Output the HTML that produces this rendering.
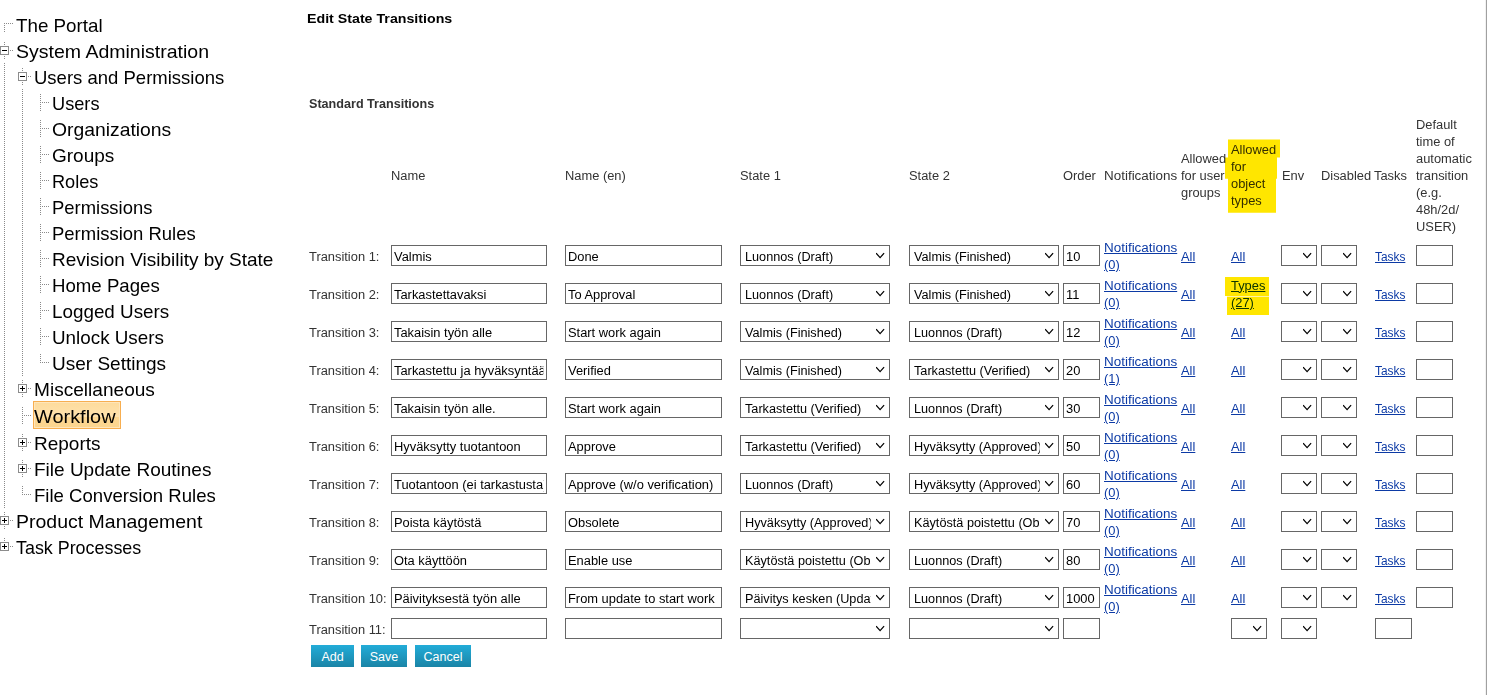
<!DOCTYPE html><html><head><meta charset="utf-8"><style>
*{margin:0;padding:0;box-sizing:content-box}
html,body{width:1487px;height:695px;overflow:hidden;background:#fff;position:relative;font-family:"Liberation Sans", sans-serif}
body>div,body>svg{position:absolute}
.tt{transform-origin:0 0;font-size:19px;line-height:30px;height:30px;color:#000;white-space:nowrap}
.tt,.hd,.lb,.lk,.b1,.b2{position:absolute;white-space:nowrap}
.b1{font-size:13.6px;font-weight:bold;line-height:30px;color:#000}
.b2{font-size:12.6px;font-weight:bold;line-height:30px;color:#333}
.hd,.lb,.lk{transform:scaleX(1.03);transform-origin:0 0}
.hd,.lb{font-size:12.5px;line-height:30px;color:#333}
.lk{font-size:12.5px;line-height:30px;color:#0c3aa5;text-decoration:underline}
.in,.se{position:absolute;border:1px solid #666;background:#fff;overflow:hidden;font-size:12.5px;color:#000;white-space:nowrap}
.in span,.se span{position:absolute;left:2px;top:-4.33px;line-height:30px;overflow:hidden;display:block}
.se span{left:4px}
.in span{transform:scaleX(1.03);transform-origin:0 0}
.se span{transform:scaleX(1.015);transform-origin:0 0}
.sel{position:absolute;border:1px solid #f7ae50;background:linear-gradient(#fddb9c 0%,#ffe2ae 56%,#fdd792 56%,#fcd58e 100%);box-shadow:inset 0 0 0 1px #ffe6bb}
.bt{position:absolute;background:linear-gradient(#22acd8,#1a84a6);color:#fff;font-size:12.5px;line-height:24px;text-align:center}
</style></head><body><svg width="300" height="600" style="position:absolute;left:0;top:0" fill="#8a8a8a"><rect x="4" y="63" width="1" height="1"/><rect x="4" y="65" width="1" height="1"/><rect x="4" y="67" width="1" height="1"/><rect x="4" y="69" width="1" height="1"/><rect x="4" y="71" width="1" height="1"/><rect x="4" y="73" width="1" height="1"/><rect x="4" y="75" width="1" height="1"/><rect x="4" y="77" width="1" height="1"/><rect x="4" y="79" width="1" height="1"/><rect x="4" y="81" width="1" height="1"/><rect x="4" y="83" width="1" height="1"/><rect x="4" y="85" width="1" height="1"/><rect x="4" y="87" width="1" height="1"/><rect x="4" y="89" width="1" height="1"/><rect x="4" y="91" width="1" height="1"/><rect x="4" y="93" width="1" height="1"/><rect x="4" y="95" width="1" height="1"/><rect x="4" y="97" width="1" height="1"/><rect x="4" y="99" width="1" height="1"/><rect x="4" y="101" width="1" height="1"/><rect x="4" y="103" width="1" height="1"/><rect x="4" y="105" width="1" height="1"/><rect x="4" y="107" width="1" height="1"/><rect x="4" y="109" width="1" height="1"/><rect x="4" y="111" width="1" height="1"/><rect x="4" y="113" width="1" height="1"/><rect x="4" y="115" width="1" height="1"/><rect x="4" y="117" width="1" height="1"/><rect x="4" y="119" width="1" height="1"/><rect x="4" y="121" width="1" height="1"/><rect x="4" y="123" width="1" height="1"/><rect x="4" y="125" width="1" height="1"/><rect x="4" y="127" width="1" height="1"/><rect x="4" y="129" width="1" height="1"/><rect x="4" y="131" width="1" height="1"/><rect x="4" y="133" width="1" height="1"/><rect x="4" y="135" width="1" height="1"/><rect x="4" y="137" width="1" height="1"/><rect x="4" y="139" width="1" height="1"/><rect x="4" y="141" width="1" height="1"/><rect x="4" y="143" width="1" height="1"/><rect x="4" y="145" width="1" height="1"/><rect x="4" y="147" width="1" height="1"/><rect x="4" y="149" width="1" height="1"/><rect x="4" y="151" width="1" height="1"/><rect x="4" y="153" width="1" height="1"/><rect x="4" y="155" width="1" height="1"/><rect x="4" y="157" width="1" height="1"/><rect x="4" y="159" width="1" height="1"/><rect x="4" y="161" width="1" height="1"/><rect x="4" y="163" width="1" height="1"/><rect x="4" y="165" width="1" height="1"/><rect x="4" y="167" width="1" height="1"/><rect x="4" y="169" width="1" height="1"/><rect x="4" y="171" width="1" height="1"/><rect x="4" y="173" width="1" height="1"/><rect x="4" y="175" width="1" height="1"/><rect x="4" y="177" width="1" height="1"/><rect x="4" y="179" width="1" height="1"/><rect x="4" y="181" width="1" height="1"/><rect x="4" y="183" width="1" height="1"/><rect x="4" y="185" width="1" height="1"/><rect x="4" y="187" width="1" height="1"/><rect x="4" y="189" width="1" height="1"/><rect x="4" y="191" width="1" height="1"/><rect x="4" y="193" width="1" height="1"/><rect x="4" y="195" width="1" height="1"/><rect x="4" y="197" width="1" height="1"/><rect x="4" y="199" width="1" height="1"/><rect x="4" y="201" width="1" height="1"/><rect x="4" y="203" width="1" height="1"/><rect x="4" y="205" width="1" height="1"/><rect x="4" y="207" width="1" height="1"/><rect x="4" y="209" width="1" height="1"/><rect x="4" y="211" width="1" height="1"/><rect x="4" y="213" width="1" height="1"/><rect x="4" y="215" width="1" height="1"/><rect x="4" y="217" width="1" height="1"/><rect x="4" y="219" width="1" height="1"/><rect x="4" y="221" width="1" height="1"/><rect x="4" y="223" width="1" height="1"/><rect x="4" y="225" width="1" height="1"/><rect x="4" y="227" width="1" height="1"/><rect x="4" y="229" width="1" height="1"/><rect x="4" y="231" width="1" height="1"/><rect x="4" y="233" width="1" height="1"/><rect x="4" y="235" width="1" height="1"/><rect x="4" y="237" width="1" height="1"/><rect x="4" y="239" width="1" height="1"/><rect x="4" y="241" width="1" height="1"/><rect x="4" y="243" width="1" height="1"/><rect x="4" y="245" width="1" height="1"/><rect x="4" y="247" width="1" height="1"/><rect x="4" y="249" width="1" height="1"/><rect x="4" y="251" width="1" height="1"/><rect x="4" y="253" width="1" height="1"/><rect x="4" y="255" width="1" height="1"/><rect x="4" y="257" width="1" height="1"/><rect x="4" y="259" width="1" height="1"/><rect x="4" y="261" width="1" height="1"/><rect x="4" y="263" width="1" height="1"/><rect x="4" y="265" width="1" height="1"/><rect x="4" y="267" width="1" height="1"/><rect x="4" y="269" width="1" height="1"/><rect x="4" y="271" width="1" height="1"/><rect x="4" y="273" width="1" height="1"/><rect x="4" y="275" width="1" height="1"/><rect x="4" y="277" width="1" height="1"/><rect x="4" y="279" width="1" height="1"/><rect x="4" y="281" width="1" height="1"/><rect x="4" y="283" width="1" height="1"/><rect x="4" y="285" width="1" height="1"/><rect x="4" y="287" width="1" height="1"/><rect x="4" y="289" width="1" height="1"/><rect x="4" y="291" width="1" height="1"/><rect x="4" y="293" width="1" height="1"/><rect x="4" y="295" width="1" height="1"/><rect x="4" y="297" width="1" height="1"/><rect x="4" y="299" width="1" height="1"/><rect x="4" y="301" width="1" height="1"/><rect x="4" y="303" width="1" height="1"/><rect x="4" y="305" width="1" height="1"/><rect x="4" y="307" width="1" height="1"/><rect x="4" y="309" width="1" height="1"/><rect x="4" y="311" width="1" height="1"/><rect x="4" y="313" width="1" height="1"/><rect x="4" y="315" width="1" height="1"/><rect x="4" y="317" width="1" height="1"/><rect x="4" y="319" width="1" height="1"/><rect x="4" y="321" width="1" height="1"/><rect x="4" y="323" width="1" height="1"/><rect x="4" y="325" width="1" height="1"/><rect x="4" y="327" width="1" height="1"/><rect x="4" y="329" width="1" height="1"/><rect x="4" y="331" width="1" height="1"/><rect x="4" y="333" width="1" height="1"/><rect x="4" y="335" width="1" height="1"/><rect x="4" y="337" width="1" height="1"/><rect x="4" y="339" width="1" height="1"/><rect x="4" y="341" width="1" height="1"/><rect x="4" y="343" width="1" height="1"/><rect x="4" y="345" width="1" height="1"/><rect x="4" y="347" width="1" height="1"/><rect x="4" y="349" width="1" height="1"/><rect x="4" y="351" width="1" height="1"/><rect x="4" y="353" width="1" height="1"/><rect x="4" y="355" width="1" height="1"/><rect x="4" y="357" width="1" height="1"/><rect x="4" y="359" width="1" height="1"/><rect x="4" y="361" width="1" height="1"/><rect x="4" y="363" width="1" height="1"/><rect x="4" y="365" width="1" height="1"/><rect x="4" y="367" width="1" height="1"/><rect x="4" y="369" width="1" height="1"/><rect x="4" y="371" width="1" height="1"/><rect x="4" y="373" width="1" height="1"/><rect x="4" y="375" width="1" height="1"/><rect x="4" y="377" width="1" height="1"/><rect x="4" y="379" width="1" height="1"/><rect x="4" y="381" width="1" height="1"/><rect x="4" y="383" width="1" height="1"/><rect x="4" y="385" width="1" height="1"/><rect x="4" y="387" width="1" height="1"/><rect x="4" y="389" width="1" height="1"/><rect x="4" y="391" width="1" height="1"/><rect x="4" y="393" width="1" height="1"/><rect x="4" y="395" width="1" height="1"/><rect x="4" y="397" width="1" height="1"/><rect x="4" y="399" width="1" height="1"/><rect x="4" y="401" width="1" height="1"/><rect x="4" y="403" width="1" height="1"/><rect x="4" y="405" width="1" height="1"/><rect x="4" y="407" width="1" height="1"/><rect x="4" y="409" width="1" height="1"/><rect x="4" y="411" width="1" height="1"/><rect x="4" y="413" width="1" height="1"/><rect x="4" y="415" width="1" height="1"/><rect x="4" y="417" width="1" height="1"/><rect x="4" y="419" width="1" height="1"/><rect x="4" y="421" width="1" height="1"/><rect x="4" y="423" width="1" height="1"/><rect x="4" y="425" width="1" height="1"/><rect x="4" y="427" width="1" height="1"/><rect x="4" y="429" width="1" height="1"/><rect x="4" y="431" width="1" height="1"/><rect x="4" y="433" width="1" height="1"/><rect x="4" y="435" width="1" height="1"/><rect x="4" y="437" width="1" height="1"/><rect x="4" y="439" width="1" height="1"/><rect x="4" y="441" width="1" height="1"/><rect x="4" y="443" width="1" height="1"/><rect x="4" y="445" width="1" height="1"/><rect x="4" y="447" width="1" height="1"/><rect x="4" y="449" width="1" height="1"/><rect x="4" y="451" width="1" height="1"/><rect x="4" y="453" width="1" height="1"/><rect x="4" y="455" width="1" height="1"/><rect x="4" y="457" width="1" height="1"/><rect x="4" y="459" width="1" height="1"/><rect x="4" y="461" width="1" height="1"/><rect x="4" y="463" width="1" height="1"/><rect x="4" y="465" width="1" height="1"/><rect x="4" y="467" width="1" height="1"/><rect x="4" y="469" width="1" height="1"/><rect x="4" y="471" width="1" height="1"/><rect x="4" y="473" width="1" height="1"/><rect x="4" y="475" width="1" height="1"/><rect x="4" y="477" width="1" height="1"/><rect x="4" y="479" width="1" height="1"/><rect x="4" y="481" width="1" height="1"/><rect x="4" y="483" width="1" height="1"/><rect x="4" y="485" width="1" height="1"/><rect x="4" y="487" width="1" height="1"/><rect x="4" y="489" width="1" height="1"/><rect x="4" y="491" width="1" height="1"/><rect x="4" y="493" width="1" height="1"/><rect x="4" y="495" width="1" height="1"/><rect x="4" y="497" width="1" height="1"/><rect x="4" y="499" width="1" height="1"/><rect x="4" y="501" width="1" height="1"/><rect x="4" y="503" width="1" height="1"/><rect x="4" y="505" width="1" height="1"/><rect x="4" y="507" width="1" height="1"/><rect x="22" y="89" width="1" height="1"/><rect x="22" y="91" width="1" height="1"/><rect x="22" y="93" width="1" height="1"/><rect x="22" y="95" width="1" height="1"/><rect x="22" y="97" width="1" height="1"/><rect x="22" y="99" width="1" height="1"/><rect x="22" y="101" width="1" height="1"/><rect x="22" y="103" width="1" height="1"/><rect x="22" y="105" width="1" height="1"/><rect x="22" y="107" width="1" height="1"/><rect x="22" y="109" width="1" height="1"/><rect x="22" y="111" width="1" height="1"/><rect x="22" y="113" width="1" height="1"/><rect x="22" y="115" width="1" height="1"/><rect x="22" y="117" width="1" height="1"/><rect x="22" y="119" width="1" height="1"/><rect x="22" y="121" width="1" height="1"/><rect x="22" y="123" width="1" height="1"/><rect x="22" y="125" width="1" height="1"/><rect x="22" y="127" width="1" height="1"/><rect x="22" y="129" width="1" height="1"/><rect x="22" y="131" width="1" height="1"/><rect x="22" y="133" width="1" height="1"/><rect x="22" y="135" width="1" height="1"/><rect x="22" y="137" width="1" height="1"/><rect x="22" y="139" width="1" height="1"/><rect x="22" y="141" width="1" height="1"/><rect x="22" y="143" width="1" height="1"/><rect x="22" y="145" width="1" height="1"/><rect x="22" y="147" width="1" height="1"/><rect x="22" y="149" width="1" height="1"/><rect x="22" y="151" width="1" height="1"/><rect x="22" y="153" width="1" height="1"/><rect x="22" y="155" width="1" height="1"/><rect x="22" y="157" width="1" height="1"/><rect x="22" y="159" width="1" height="1"/><rect x="22" y="161" width="1" height="1"/><rect x="22" y="163" width="1" height="1"/><rect x="22" y="165" width="1" height="1"/><rect x="22" y="167" width="1" height="1"/><rect x="22" y="169" width="1" height="1"/><rect x="22" y="171" width="1" height="1"/><rect x="22" y="173" width="1" height="1"/><rect x="22" y="175" width="1" height="1"/><rect x="22" y="177" width="1" height="1"/><rect x="22" y="179" width="1" height="1"/><rect x="22" y="181" width="1" height="1"/><rect x="22" y="183" width="1" height="1"/><rect x="22" y="185" width="1" height="1"/><rect x="22" y="187" width="1" height="1"/><rect x="22" y="189" width="1" height="1"/><rect x="22" y="191" width="1" height="1"/><rect x="22" y="193" width="1" height="1"/><rect x="22" y="195" width="1" height="1"/><rect x="22" y="197" width="1" height="1"/><rect x="22" y="199" width="1" height="1"/><rect x="22" y="201" width="1" height="1"/><rect x="22" y="203" width="1" height="1"/><rect x="22" y="205" width="1" height="1"/><rect x="22" y="207" width="1" height="1"/><rect x="22" y="209" width="1" height="1"/><rect x="22" y="211" width="1" height="1"/><rect x="22" y="213" width="1" height="1"/><rect x="22" y="215" width="1" height="1"/><rect x="22" y="217" width="1" height="1"/><rect x="22" y="219" width="1" height="1"/><rect x="22" y="221" width="1" height="1"/><rect x="22" y="223" width="1" height="1"/><rect x="22" y="225" width="1" height="1"/><rect x="22" y="227" width="1" height="1"/><rect x="22" y="229" width="1" height="1"/><rect x="22" y="231" width="1" height="1"/><rect x="22" y="233" width="1" height="1"/><rect x="22" y="235" width="1" height="1"/><rect x="22" y="237" width="1" height="1"/><rect x="22" y="239" width="1" height="1"/><rect x="22" y="241" width="1" height="1"/><rect x="22" y="243" width="1" height="1"/><rect x="22" y="245" width="1" height="1"/><rect x="22" y="247" width="1" height="1"/><rect x="22" y="249" width="1" height="1"/><rect x="22" y="251" width="1" height="1"/><rect x="22" y="253" width="1" height="1"/><rect x="22" y="255" width="1" height="1"/><rect x="22" y="257" width="1" height="1"/><rect x="22" y="259" width="1" height="1"/><rect x="22" y="261" width="1" height="1"/><rect x="22" y="263" width="1" height="1"/><rect x="22" y="265" width="1" height="1"/><rect x="22" y="267" width="1" height="1"/><rect x="22" y="269" width="1" height="1"/><rect x="22" y="271" width="1" height="1"/><rect x="22" y="273" width="1" height="1"/><rect x="22" y="275" width="1" height="1"/><rect x="22" y="277" width="1" height="1"/><rect x="22" y="279" width="1" height="1"/><rect x="22" y="281" width="1" height="1"/><rect x="22" y="283" width="1" height="1"/><rect x="22" y="285" width="1" height="1"/><rect x="22" y="287" width="1" height="1"/><rect x="22" y="289" width="1" height="1"/><rect x="22" y="291" width="1" height="1"/><rect x="22" y="293" width="1" height="1"/><rect x="22" y="295" width="1" height="1"/><rect x="22" y="297" width="1" height="1"/><rect x="22" y="299" width="1" height="1"/><rect x="22" y="301" width="1" height="1"/><rect x="22" y="303" width="1" height="1"/><rect x="22" y="305" width="1" height="1"/><rect x="22" y="307" width="1" height="1"/><rect x="22" y="309" width="1" height="1"/><rect x="22" y="311" width="1" height="1"/><rect x="22" y="313" width="1" height="1"/><rect x="22" y="315" width="1" height="1"/><rect x="22" y="317" width="1" height="1"/><rect x="22" y="319" width="1" height="1"/><rect x="22" y="321" width="1" height="1"/><rect x="22" y="323" width="1" height="1"/><rect x="22" y="325" width="1" height="1"/><rect x="22" y="327" width="1" height="1"/><rect x="22" y="329" width="1" height="1"/><rect x="22" y="331" width="1" height="1"/><rect x="22" y="333" width="1" height="1"/><rect x="22" y="335" width="1" height="1"/><rect x="22" y="337" width="1" height="1"/><rect x="22" y="339" width="1" height="1"/><rect x="22" y="341" width="1" height="1"/><rect x="22" y="343" width="1" height="1"/><rect x="22" y="345" width="1" height="1"/><rect x="22" y="347" width="1" height="1"/><rect x="22" y="349" width="1" height="1"/><rect x="22" y="351" width="1" height="1"/><rect x="22" y="353" width="1" height="1"/><rect x="22" y="355" width="1" height="1"/><rect x="22" y="357" width="1" height="1"/><rect x="22" y="359" width="1" height="1"/><rect x="22" y="361" width="1" height="1"/><rect x="22" y="363" width="1" height="1"/><rect x="22" y="365" width="1" height="1"/><rect x="22" y="367" width="1" height="1"/><rect x="22" y="369" width="1" height="1"/><rect x="22" y="371" width="1" height="1"/><rect x="22" y="373" width="1" height="1"/><rect x="22" y="375" width="1" height="1"/><rect x="4" y="23" width="1" height="1"/><rect x="4" y="25" width="1" height="1"/><rect x="4" y="27" width="1" height="1"/><rect x="4" y="29" width="1" height="1"/><rect x="4" y="31" width="1" height="1"/><rect x="4" y="23" width="1" height="1"/><rect x="6" y="23" width="1" height="1"/><rect x="8" y="23" width="1" height="1"/><rect x="10" y="23" width="1" height="1"/><rect x="12" y="23" width="1" height="1"/><rect x="4" y="42" width="1" height="1"/><rect x="4" y="44" width="1" height="1"/><rect x="4" y="46" width="1" height="1"/><rect x="4" y="48" width="1" height="1"/><rect x="4" y="50" width="1" height="1"/><rect x="4" y="52" width="1" height="1"/><rect x="4" y="54" width="1" height="1"/><rect x="4" y="56" width="1" height="1"/><rect x="4" y="58" width="1" height="1"/><rect x="10" y="50" width="1" height="1"/><rect x="12" y="50" width="1" height="1"/><rect x="22" y="68" width="1" height="1"/><rect x="22" y="70" width="1" height="1"/><rect x="22" y="72" width="1" height="1"/><rect x="22" y="74" width="1" height="1"/><rect x="22" y="76" width="1" height="1"/><rect x="22" y="78" width="1" height="1"/><rect x="22" y="80" width="1" height="1"/><rect x="22" y="82" width="1" height="1"/><rect x="22" y="84" width="1" height="1"/><rect x="28" y="76" width="1" height="1"/><rect x="30" y="76" width="1" height="1"/><rect x="40" y="94" width="1" height="1"/><rect x="40" y="96" width="1" height="1"/><rect x="40" y="98" width="1" height="1"/><rect x="40" y="100" width="1" height="1"/><rect x="40" y="102" width="1" height="1"/><rect x="40" y="104" width="1" height="1"/><rect x="40" y="106" width="1" height="1"/><rect x="40" y="108" width="1" height="1"/><rect x="40" y="110" width="1" height="1"/><rect x="40" y="102" width="1" height="1"/><rect x="42" y="102" width="1" height="1"/><rect x="44" y="102" width="1" height="1"/><rect x="46" y="102" width="1" height="1"/><rect x="48" y="102" width="1" height="1"/><rect x="40" y="120" width="1" height="1"/><rect x="40" y="122" width="1" height="1"/><rect x="40" y="124" width="1" height="1"/><rect x="40" y="126" width="1" height="1"/><rect x="40" y="128" width="1" height="1"/><rect x="40" y="130" width="1" height="1"/><rect x="40" y="132" width="1" height="1"/><rect x="40" y="134" width="1" height="1"/><rect x="40" y="136" width="1" height="1"/><rect x="40" y="128" width="1" height="1"/><rect x="42" y="128" width="1" height="1"/><rect x="44" y="128" width="1" height="1"/><rect x="46" y="128" width="1" height="1"/><rect x="48" y="128" width="1" height="1"/><rect x="40" y="146" width="1" height="1"/><rect x="40" y="148" width="1" height="1"/><rect x="40" y="150" width="1" height="1"/><rect x="40" y="152" width="1" height="1"/><rect x="40" y="154" width="1" height="1"/><rect x="40" y="156" width="1" height="1"/><rect x="40" y="158" width="1" height="1"/><rect x="40" y="160" width="1" height="1"/><rect x="40" y="162" width="1" height="1"/><rect x="40" y="154" width="1" height="1"/><rect x="42" y="154" width="1" height="1"/><rect x="44" y="154" width="1" height="1"/><rect x="46" y="154" width="1" height="1"/><rect x="48" y="154" width="1" height="1"/><rect x="40" y="172" width="1" height="1"/><rect x="40" y="174" width="1" height="1"/><rect x="40" y="176" width="1" height="1"/><rect x="40" y="178" width="1" height="1"/><rect x="40" y="180" width="1" height="1"/><rect x="40" y="182" width="1" height="1"/><rect x="40" y="184" width="1" height="1"/><rect x="40" y="186" width="1" height="1"/><rect x="40" y="188" width="1" height="1"/><rect x="40" y="180" width="1" height="1"/><rect x="42" y="180" width="1" height="1"/><rect x="44" y="180" width="1" height="1"/><rect x="46" y="180" width="1" height="1"/><rect x="48" y="180" width="1" height="1"/><rect x="40" y="198" width="1" height="1"/><rect x="40" y="200" width="1" height="1"/><rect x="40" y="202" width="1" height="1"/><rect x="40" y="204" width="1" height="1"/><rect x="40" y="206" width="1" height="1"/><rect x="40" y="208" width="1" height="1"/><rect x="40" y="210" width="1" height="1"/><rect x="40" y="212" width="1" height="1"/><rect x="40" y="214" width="1" height="1"/><rect x="40" y="206" width="1" height="1"/><rect x="42" y="206" width="1" height="1"/><rect x="44" y="206" width="1" height="1"/><rect x="46" y="206" width="1" height="1"/><rect x="48" y="206" width="1" height="1"/><rect x="40" y="224" width="1" height="1"/><rect x="40" y="226" width="1" height="1"/><rect x="40" y="228" width="1" height="1"/><rect x="40" y="230" width="1" height="1"/><rect x="40" y="232" width="1" height="1"/><rect x="40" y="234" width="1" height="1"/><rect x="40" y="236" width="1" height="1"/><rect x="40" y="238" width="1" height="1"/><rect x="40" y="240" width="1" height="1"/><rect x="40" y="232" width="1" height="1"/><rect x="42" y="232" width="1" height="1"/><rect x="44" y="232" width="1" height="1"/><rect x="46" y="232" width="1" height="1"/><rect x="48" y="232" width="1" height="1"/><rect x="40" y="250" width="1" height="1"/><rect x="40" y="252" width="1" height="1"/><rect x="40" y="254" width="1" height="1"/><rect x="40" y="256" width="1" height="1"/><rect x="40" y="258" width="1" height="1"/><rect x="40" y="260" width="1" height="1"/><rect x="40" y="262" width="1" height="1"/><rect x="40" y="264" width="1" height="1"/><rect x="40" y="266" width="1" height="1"/><rect x="40" y="258" width="1" height="1"/><rect x="42" y="258" width="1" height="1"/><rect x="44" y="258" width="1" height="1"/><rect x="46" y="258" width="1" height="1"/><rect x="48" y="258" width="1" height="1"/><rect x="40" y="276" width="1" height="1"/><rect x="40" y="278" width="1" height="1"/><rect x="40" y="280" width="1" height="1"/><rect x="40" y="282" width="1" height="1"/><rect x="40" y="284" width="1" height="1"/><rect x="40" y="286" width="1" height="1"/><rect x="40" y="288" width="1" height="1"/><rect x="40" y="290" width="1" height="1"/><rect x="40" y="292" width="1" height="1"/><rect x="40" y="284" width="1" height="1"/><rect x="42" y="284" width="1" height="1"/><rect x="44" y="284" width="1" height="1"/><rect x="46" y="284" width="1" height="1"/><rect x="48" y="284" width="1" height="1"/><rect x="40" y="302" width="1" height="1"/><rect x="40" y="304" width="1" height="1"/><rect x="40" y="306" width="1" height="1"/><rect x="40" y="308" width="1" height="1"/><rect x="40" y="310" width="1" height="1"/><rect x="40" y="312" width="1" height="1"/><rect x="40" y="314" width="1" height="1"/><rect x="40" y="316" width="1" height="1"/><rect x="40" y="318" width="1" height="1"/><rect x="40" y="310" width="1" height="1"/><rect x="42" y="310" width="1" height="1"/><rect x="44" y="310" width="1" height="1"/><rect x="46" y="310" width="1" height="1"/><rect x="48" y="310" width="1" height="1"/><rect x="40" y="328" width="1" height="1"/><rect x="40" y="330" width="1" height="1"/><rect x="40" y="332" width="1" height="1"/><rect x="40" y="334" width="1" height="1"/><rect x="40" y="336" width="1" height="1"/><rect x="40" y="338" width="1" height="1"/><rect x="40" y="340" width="1" height="1"/><rect x="40" y="342" width="1" height="1"/><rect x="40" y="344" width="1" height="1"/><rect x="40" y="336" width="1" height="1"/><rect x="42" y="336" width="1" height="1"/><rect x="44" y="336" width="1" height="1"/><rect x="46" y="336" width="1" height="1"/><rect x="48" y="336" width="1" height="1"/><rect x="40" y="354" width="1" height="1"/><rect x="40" y="356" width="1" height="1"/><rect x="40" y="358" width="1" height="1"/><rect x="40" y="360" width="1" height="1"/><rect x="40" y="362" width="1" height="1"/><rect x="40" y="362" width="1" height="1"/><rect x="42" y="362" width="1" height="1"/><rect x="44" y="362" width="1" height="1"/><rect x="46" y="362" width="1" height="1"/><rect x="48" y="362" width="1" height="1"/><rect x="22" y="380" width="1" height="1"/><rect x="22" y="382" width="1" height="1"/><rect x="22" y="384" width="1" height="1"/><rect x="22" y="386" width="1" height="1"/><rect x="22" y="388" width="1" height="1"/><rect x="22" y="390" width="1" height="1"/><rect x="22" y="392" width="1" height="1"/><rect x="22" y="394" width="1" height="1"/><rect x="22" y="396" width="1" height="1"/><rect x="28" y="388" width="1" height="1"/><rect x="30" y="388" width="1" height="1"/><rect x="22" y="407" width="1" height="1"/><rect x="22" y="409" width="1" height="1"/><rect x="22" y="411" width="1" height="1"/><rect x="22" y="413" width="1" height="1"/><rect x="22" y="415" width="1" height="1"/><rect x="22" y="417" width="1" height="1"/><rect x="22" y="419" width="1" height="1"/><rect x="22" y="421" width="1" height="1"/><rect x="22" y="423" width="1" height="1"/><rect x="22" y="415" width="1" height="1"/><rect x="24" y="415" width="1" height="1"/><rect x="26" y="415" width="1" height="1"/><rect x="28" y="415" width="1" height="1"/><rect x="30" y="415" width="1" height="1"/><rect x="22" y="434" width="1" height="1"/><rect x="22" y="436" width="1" height="1"/><rect x="22" y="438" width="1" height="1"/><rect x="22" y="440" width="1" height="1"/><rect x="22" y="442" width="1" height="1"/><rect x="22" y="444" width="1" height="1"/><rect x="22" y="446" width="1" height="1"/><rect x="22" y="448" width="1" height="1"/><rect x="22" y="450" width="1" height="1"/><rect x="28" y="442" width="1" height="1"/><rect x="30" y="442" width="1" height="1"/><rect x="22" y="460" width="1" height="1"/><rect x="22" y="462" width="1" height="1"/><rect x="22" y="464" width="1" height="1"/><rect x="22" y="466" width="1" height="1"/><rect x="22" y="468" width="1" height="1"/><rect x="22" y="470" width="1" height="1"/><rect x="22" y="472" width="1" height="1"/><rect x="22" y="474" width="1" height="1"/><rect x="22" y="476" width="1" height="1"/><rect x="28" y="468" width="1" height="1"/><rect x="30" y="468" width="1" height="1"/><rect x="22" y="486" width="1" height="1"/><rect x="22" y="488" width="1" height="1"/><rect x="22" y="490" width="1" height="1"/><rect x="22" y="492" width="1" height="1"/><rect x="22" y="494" width="1" height="1"/><rect x="22" y="494" width="1" height="1"/><rect x="24" y="494" width="1" height="1"/><rect x="26" y="494" width="1" height="1"/><rect x="28" y="494" width="1" height="1"/><rect x="30" y="494" width="1" height="1"/><rect x="4" y="512" width="1" height="1"/><rect x="4" y="514" width="1" height="1"/><rect x="4" y="516" width="1" height="1"/><rect x="4" y="518" width="1" height="1"/><rect x="4" y="520" width="1" height="1"/><rect x="4" y="522" width="1" height="1"/><rect x="4" y="524" width="1" height="1"/><rect x="4" y="526" width="1" height="1"/><rect x="4" y="528" width="1" height="1"/><rect x="10" y="520" width="1" height="1"/><rect x="12" y="520" width="1" height="1"/><rect x="4" y="538" width="1" height="1"/><rect x="4" y="540" width="1" height="1"/><rect x="4" y="542" width="1" height="1"/><rect x="4" y="544" width="1" height="1"/><rect x="4" y="546" width="1" height="1"/><rect x="10" y="546" width="1" height="1"/><rect x="12" y="546" width="1" height="1"/>
<rect x="0" y="46" width="9" height="9" fill="#fff"/>
<rect x="0.5" y="46.5" width="8" height="8" fill="none" stroke="#8c8c8c" stroke-width="1"/>
<rect x="2" y="50" width="5" height="1" fill="#000"/>
<rect x="18" y="72" width="9" height="9" fill="#fff"/>
<rect x="18.5" y="72.5" width="8" height="8" fill="none" stroke="#8c8c8c" stroke-width="1"/>
<rect x="20" y="76" width="5" height="1" fill="#000"/>
<rect x="18" y="384" width="9" height="9" fill="#fff"/>
<rect x="18.5" y="384.5" width="8" height="8" fill="none" stroke="#8c8c8c" stroke-width="1"/>
<rect x="20" y="388" width="5" height="1" fill="#000"/>
<rect x="22" y="386" width="1" height="5" fill="#000"/>
<rect x="18" y="438" width="9" height="9" fill="#fff"/>
<rect x="18.5" y="438.5" width="8" height="8" fill="none" stroke="#8c8c8c" stroke-width="1"/>
<rect x="20" y="442" width="5" height="1" fill="#000"/>
<rect x="22" y="440" width="1" height="5" fill="#000"/>
<rect x="18" y="464" width="9" height="9" fill="#fff"/>
<rect x="18.5" y="464.5" width="8" height="8" fill="none" stroke="#8c8c8c" stroke-width="1"/>
<rect x="20" y="468" width="5" height="1" fill="#000"/>
<rect x="22" y="466" width="1" height="5" fill="#000"/>
<rect x="0" y="516" width="9" height="9" fill="#fff"/>
<rect x="0.5" y="516.5" width="8" height="8" fill="none" stroke="#8c8c8c" stroke-width="1"/>
<rect x="2" y="520" width="5" height="1" fill="#000"/>
<rect x="4" y="518" width="1" height="5" fill="#000"/>
<rect x="0" y="542" width="9" height="9" fill="#fff"/>
<rect x="0.5" y="542.5" width="8" height="8" fill="none" stroke="#8c8c8c" stroke-width="1"/>
<rect x="2" y="546" width="5" height="1" fill="#000"/>
<rect x="4" y="544" width="1" height="5" fill="#000"/>
</svg>
<div class="tt" style="left:16px;top:10.62px;transform:scaleX(0.9884)">The Portal</div>
<div class="tt" style="left:16px;top:36.62px;transform:scaleX(1.0270)">System Administration</div>
<div class="tt" style="left:34px;top:62.62px;transform:scaleX(0.9741)">Users and Permissions</div>
<div class="tt" style="left:52px;top:88.62px;transform:scaleX(0.9574)">Users</div>
<div class="tt" style="left:52px;top:114.62px;transform:scaleX(1.0174)">Organizations</div>
<div class="tt" style="left:52px;top:140.62px;transform:scaleX(1.0000)">Groups</div>
<div class="tt" style="left:52px;top:166.62px;transform:scaleX(0.9556)">Roles</div>
<div class="tt" style="left:52px;top:192.62px;transform:scaleX(0.9700)">Permissions</div>
<div class="tt" style="left:52px;top:218.62px;transform:scaleX(0.9722)">Permission Rules</div>
<div class="tt" style="left:52px;top:244.62px;transform:scaleX(1.0000)">Revision Visibility by State</div>
<div class="tt" style="left:52px;top:270.62px;transform:scaleX(0.9811)">Home Pages</div>
<div class="tt" style="left:52px;top:296.62px;transform:scaleX(0.9913)">Logged Users</div>
<div class="tt" style="left:52px;top:322.62px;transform:scaleX(0.9909)">Unlock Users</div>
<div class="tt" style="left:52px;top:348.62px;transform:scaleX(1.0000)">User Settings</div>
<div class="tt" style="left:34px;top:374.62px;transform:scaleX(1.0043)">Miscellaneous</div>
<div class="sel" style="left:33px;top:401px;width:86px;height:26px"></div>
<div class="tt" style="left:34px;top:401.62px;transform:scaleX(1.0481)">Workflow</div>
<div class="tt" style="left:34px;top:428.62px;transform:scaleX(1.0000)">Reports</div>
<div class="tt" style="left:34px;top:454.62px;transform:scaleX(1.0000)">File Update Routines</div>
<div class="tt" style="left:34px;top:480.62px;transform:scaleX(0.9780)">File Conversion Rules</div>
<div class="tt" style="left:16px;top:506.62px;transform:scaleX(1.0257)">Product Management</div>
<div class="tt" style="left:16px;top:532.62px;transform:scaleX(0.9412)">Task Processes</div>
<div class="b1" style="left:307px;top:3.9px;transform:scaleX(1.045);transform-origin:0 0">Edit State Transitions</div>
<div class="b2" style="left:309px;top:88.6px">Standard Transitions</div>
<div class="hd" style="left:391px;top:160.67px">Name</div>
<div class="hd" style="left:565px;top:160.67px">Name (en)</div>
<div class="hd" style="left:740px;top:160.67px">State 1</div>
<div class="hd" style="left:909px;top:160.67px">State 2</div>
<div class="hd" style="left:1063px;top:160.67px">Order</div>
<div class="hd" style="left:1104px;top:160.67px;transform:scaleX(1.075);transform-origin:0 0">Notifications</div>
<div class="hd" style="left:1181px;top:143.67px">Allowed</div>
<div class="hd" style="left:1181px;top:160.67px">for user</div>
<div class="hd" style="left:1181px;top:177.67px">groups</div>
<div class="hd" style="left:1231px;top:135.17px">Allowed</div>
<div class="hd" style="left:1231px;top:152.17px">for</div>
<div class="hd" style="left:1231px;top:169.17px">object</div>
<div class="hd" style="left:1231px;top:186.17px">types</div>
<div class="hd" style="left:1282px;top:160.67px">Env</div>
<div class="hd" style="left:1321px;top:160.67px">Disabled</div>
<div class="hd" style="left:1374px;top:160.67px">Tasks</div>
<div class="hd" style="left:1416px;top:109.67px">Default</div>
<div class="hd" style="left:1416px;top:126.67px">time of</div>
<div class="hd" style="left:1416px;top:143.67px">automatic</div>
<div class="hd" style="left:1416px;top:160.67px">transition</div>
<div class="hd" style="left:1416px;top:177.67px">(e.g.</div>
<div class="hd" style="left:1416px;top:194.67px">48h/2d/</div>
<div class="hd" style="left:1416px;top:211.67px">USER)</div>
<div class="lb" style="left:309px;top:241.67px">Transition 1:</div>
<div class="in" style="left:391px;top:245px;width:154px;height:19px"><span style="width:144.66px">Valmis</span></div>
<div class="in" style="left:565px;top:245px;width:155px;height:19px"><span style="width:145.63px">Done</span></div>
<div class="se" style="left:740px;top:245px;width:148px;height:19px"><span style="width:124.14px">Luonnos (Draft)</span><svg width="10" height="8" style="position:absolute;right:3px;top:6px"><path d="M0.1 1.2L4.1 5.6L8.1 1.2" fill="none" stroke="#000" stroke-width="1.25"/></svg></div>
<div class="se" style="left:909px;top:245px;width:148px;height:19px"><span style="width:124.14px">Valmis (Finished)</span><svg width="10" height="8" style="position:absolute;right:3px;top:6px"><path d="M0.1 1.2L4.1 5.6L8.1 1.2" fill="none" stroke="#000" stroke-width="1.25"/></svg></div>
<div class="in" style="left:1063px;top:245px;width:35px;height:19px"><span style="width:29.13px">10</span></div>
<div class="lk" style="left:1104px;top:232.67px;transform:scaleX(1.075);transform-origin:0 0">Notifications</div>
<div class="lk" style="left:1104px;top:249.67px">(0)</div>
<div class="lk" style="left:1181px;top:241.67px">All</div>
<div class="lk" style="left:1231px;top:241.67px">All</div>
<div class="se" style="left:1281px;top:245px;width:34px;height:19px"><span style="width:11.82px"></span><svg width="10" height="8" style="position:absolute;right:3px;top:6px"><path d="M0.1 1.2L4.1 5.6L8.1 1.2" fill="none" stroke="#000" stroke-width="1.25"/></svg></div>
<div class="se" style="left:1321px;top:245px;width:34px;height:19px"><span style="width:11.82px"></span><svg width="10" height="8" style="position:absolute;right:3px;top:6px"><path d="M0.1 1.2L4.1 5.6L8.1 1.2" fill="none" stroke="#000" stroke-width="1.25"/></svg></div>
<div class="lk" style="left:1375px;top:241.67px;transform:scaleX(0.95)">Tasks</div>
<div class="in" style="left:1416px;top:245px;width:35px;height:19px"><span style="width:29.13px"></span></div>
<div class="lb" style="left:309px;top:279.67px">Transition 2:</div>
<div class="in" style="left:391px;top:283px;width:154px;height:19px"><span style="width:144.66px">Tarkastettavaksi</span></div>
<div class="in" style="left:565px;top:283px;width:155px;height:19px"><span style="width:145.63px">To Approval</span></div>
<div class="se" style="left:740px;top:283px;width:148px;height:19px"><span style="width:124.14px">Luonnos (Draft)</span><svg width="10" height="8" style="position:absolute;right:3px;top:6px"><path d="M0.1 1.2L4.1 5.6L8.1 1.2" fill="none" stroke="#000" stroke-width="1.25"/></svg></div>
<div class="se" style="left:909px;top:283px;width:148px;height:19px"><span style="width:124.14px">Valmis (Finished)</span><svg width="10" height="8" style="position:absolute;right:3px;top:6px"><path d="M0.1 1.2L4.1 5.6L8.1 1.2" fill="none" stroke="#000" stroke-width="1.25"/></svg></div>
<div class="in" style="left:1063px;top:283px;width:35px;height:19px"><span style="width:29.13px">11</span></div>
<div class="lk" style="left:1104px;top:270.67px;transform:scaleX(1.075);transform-origin:0 0">Notifications</div>
<div class="lk" style="left:1104px;top:287.67px">(0)</div>
<div class="lk" style="left:1181px;top:279.67px">All</div>
<div class="lk" style="left:1231px;top:270.67px">Types</div>
<div class="lk" style="left:1231px;top:287.67px">(27)</div>
<div class="se" style="left:1281px;top:283px;width:34px;height:19px"><span style="width:11.82px"></span><svg width="10" height="8" style="position:absolute;right:3px;top:6px"><path d="M0.1 1.2L4.1 5.6L8.1 1.2" fill="none" stroke="#000" stroke-width="1.25"/></svg></div>
<div class="se" style="left:1321px;top:283px;width:34px;height:19px"><span style="width:11.82px"></span><svg width="10" height="8" style="position:absolute;right:3px;top:6px"><path d="M0.1 1.2L4.1 5.6L8.1 1.2" fill="none" stroke="#000" stroke-width="1.25"/></svg></div>
<div class="lk" style="left:1375px;top:279.67px;transform:scaleX(0.95)">Tasks</div>
<div class="in" style="left:1416px;top:283px;width:35px;height:19px"><span style="width:29.13px"></span></div>
<div class="lb" style="left:309px;top:317.67px">Transition 3:</div>
<div class="in" style="left:391px;top:321px;width:154px;height:19px"><span style="width:144.66px">Takaisin työn alle</span></div>
<div class="in" style="left:565px;top:321px;width:155px;height:19px"><span style="width:145.63px">Start work again</span></div>
<div class="se" style="left:740px;top:321px;width:148px;height:19px"><span style="width:124.14px">Valmis (Finished)</span><svg width="10" height="8" style="position:absolute;right:3px;top:6px"><path d="M0.1 1.2L4.1 5.6L8.1 1.2" fill="none" stroke="#000" stroke-width="1.25"/></svg></div>
<div class="se" style="left:909px;top:321px;width:148px;height:19px"><span style="width:124.14px">Luonnos (Draft)</span><svg width="10" height="8" style="position:absolute;right:3px;top:6px"><path d="M0.1 1.2L4.1 5.6L8.1 1.2" fill="none" stroke="#000" stroke-width="1.25"/></svg></div>
<div class="in" style="left:1063px;top:321px;width:35px;height:19px"><span style="width:29.13px">12</span></div>
<div class="lk" style="left:1104px;top:308.67px;transform:scaleX(1.075);transform-origin:0 0">Notifications</div>
<div class="lk" style="left:1104px;top:325.67px">(0)</div>
<div class="lk" style="left:1181px;top:317.67px">All</div>
<div class="lk" style="left:1231px;top:317.67px">All</div>
<div class="se" style="left:1281px;top:321px;width:34px;height:19px"><span style="width:11.82px"></span><svg width="10" height="8" style="position:absolute;right:3px;top:6px"><path d="M0.1 1.2L4.1 5.6L8.1 1.2" fill="none" stroke="#000" stroke-width="1.25"/></svg></div>
<div class="se" style="left:1321px;top:321px;width:34px;height:19px"><span style="width:11.82px"></span><svg width="10" height="8" style="position:absolute;right:3px;top:6px"><path d="M0.1 1.2L4.1 5.6L8.1 1.2" fill="none" stroke="#000" stroke-width="1.25"/></svg></div>
<div class="lk" style="left:1375px;top:317.67px;transform:scaleX(0.95)">Tasks</div>
<div class="in" style="left:1416px;top:321px;width:35px;height:19px"><span style="width:29.13px"></span></div>
<div class="lb" style="left:309px;top:355.67px">Transition 4:</div>
<div class="in" style="left:391px;top:359px;width:154px;height:19px"><span style="width:144.66px">Tarkastettu ja hyväksyntää</span></div>
<div class="in" style="left:565px;top:359px;width:155px;height:19px"><span style="width:145.63px">Verified</span></div>
<div class="se" style="left:740px;top:359px;width:148px;height:19px"><span style="width:124.14px">Valmis (Finished)</span><svg width="10" height="8" style="position:absolute;right:3px;top:6px"><path d="M0.1 1.2L4.1 5.6L8.1 1.2" fill="none" stroke="#000" stroke-width="1.25"/></svg></div>
<div class="se" style="left:909px;top:359px;width:148px;height:19px"><span style="width:124.14px">Tarkastettu (Verified)</span><svg width="10" height="8" style="position:absolute;right:3px;top:6px"><path d="M0.1 1.2L4.1 5.6L8.1 1.2" fill="none" stroke="#000" stroke-width="1.25"/></svg></div>
<div class="in" style="left:1063px;top:359px;width:35px;height:19px"><span style="width:29.13px">20</span></div>
<div class="lk" style="left:1104px;top:346.67px;transform:scaleX(1.075);transform-origin:0 0">Notifications</div>
<div class="lk" style="left:1104px;top:363.67px">(1)</div>
<div class="lk" style="left:1181px;top:355.67px">All</div>
<div class="lk" style="left:1231px;top:355.67px">All</div>
<div class="se" style="left:1281px;top:359px;width:34px;height:19px"><span style="width:11.82px"></span><svg width="10" height="8" style="position:absolute;right:3px;top:6px"><path d="M0.1 1.2L4.1 5.6L8.1 1.2" fill="none" stroke="#000" stroke-width="1.25"/></svg></div>
<div class="se" style="left:1321px;top:359px;width:34px;height:19px"><span style="width:11.82px"></span><svg width="10" height="8" style="position:absolute;right:3px;top:6px"><path d="M0.1 1.2L4.1 5.6L8.1 1.2" fill="none" stroke="#000" stroke-width="1.25"/></svg></div>
<div class="lk" style="left:1375px;top:355.67px;transform:scaleX(0.95)">Tasks</div>
<div class="in" style="left:1416px;top:359px;width:35px;height:19px"><span style="width:29.13px"></span></div>
<div class="lb" style="left:309px;top:393.67px">Transition 5:</div>
<div class="in" style="left:391px;top:397px;width:154px;height:19px"><span style="width:144.66px">Takaisin työn alle.</span></div>
<div class="in" style="left:565px;top:397px;width:155px;height:19px"><span style="width:145.63px">Start work again</span></div>
<div class="se" style="left:740px;top:397px;width:148px;height:19px"><span style="width:124.14px">Tarkastettu (Verified)</span><svg width="10" height="8" style="position:absolute;right:3px;top:6px"><path d="M0.1 1.2L4.1 5.6L8.1 1.2" fill="none" stroke="#000" stroke-width="1.25"/></svg></div>
<div class="se" style="left:909px;top:397px;width:148px;height:19px"><span style="width:124.14px">Luonnos (Draft)</span><svg width="10" height="8" style="position:absolute;right:3px;top:6px"><path d="M0.1 1.2L4.1 5.6L8.1 1.2" fill="none" stroke="#000" stroke-width="1.25"/></svg></div>
<div class="in" style="left:1063px;top:397px;width:35px;height:19px"><span style="width:29.13px">30</span></div>
<div class="lk" style="left:1104px;top:384.67px;transform:scaleX(1.075);transform-origin:0 0">Notifications</div>
<div class="lk" style="left:1104px;top:401.67px">(0)</div>
<div class="lk" style="left:1181px;top:393.67px">All</div>
<div class="lk" style="left:1231px;top:393.67px">All</div>
<div class="se" style="left:1281px;top:397px;width:34px;height:19px"><span style="width:11.82px"></span><svg width="10" height="8" style="position:absolute;right:3px;top:6px"><path d="M0.1 1.2L4.1 5.6L8.1 1.2" fill="none" stroke="#000" stroke-width="1.25"/></svg></div>
<div class="se" style="left:1321px;top:397px;width:34px;height:19px"><span style="width:11.82px"></span><svg width="10" height="8" style="position:absolute;right:3px;top:6px"><path d="M0.1 1.2L4.1 5.6L8.1 1.2" fill="none" stroke="#000" stroke-width="1.25"/></svg></div>
<div class="lk" style="left:1375px;top:393.67px;transform:scaleX(0.95)">Tasks</div>
<div class="in" style="left:1416px;top:397px;width:35px;height:19px"><span style="width:29.13px"></span></div>
<div class="lb" style="left:309px;top:431.67px">Transition 6:</div>
<div class="in" style="left:391px;top:435px;width:154px;height:19px"><span style="width:144.66px">Hyväksytty tuotantoon</span></div>
<div class="in" style="left:565px;top:435px;width:155px;height:19px"><span style="width:145.63px">Approve</span></div>
<div class="se" style="left:740px;top:435px;width:148px;height:19px"><span style="width:124.14px">Tarkastettu (Verified)</span><svg width="10" height="8" style="position:absolute;right:3px;top:6px"><path d="M0.1 1.2L4.1 5.6L8.1 1.2" fill="none" stroke="#000" stroke-width="1.25"/></svg></div>
<div class="se" style="left:909px;top:435px;width:148px;height:19px"><span style="width:124.14px">Hyväksytty (Approved)</span><svg width="10" height="8" style="position:absolute;right:3px;top:6px"><path d="M0.1 1.2L4.1 5.6L8.1 1.2" fill="none" stroke="#000" stroke-width="1.25"/></svg></div>
<div class="in" style="left:1063px;top:435px;width:35px;height:19px"><span style="width:29.13px">50</span></div>
<div class="lk" style="left:1104px;top:422.67px;transform:scaleX(1.075);transform-origin:0 0">Notifications</div>
<div class="lk" style="left:1104px;top:439.67px">(0)</div>
<div class="lk" style="left:1181px;top:431.67px">All</div>
<div class="lk" style="left:1231px;top:431.67px">All</div>
<div class="se" style="left:1281px;top:435px;width:34px;height:19px"><span style="width:11.82px"></span><svg width="10" height="8" style="position:absolute;right:3px;top:6px"><path d="M0.1 1.2L4.1 5.6L8.1 1.2" fill="none" stroke="#000" stroke-width="1.25"/></svg></div>
<div class="se" style="left:1321px;top:435px;width:34px;height:19px"><span style="width:11.82px"></span><svg width="10" height="8" style="position:absolute;right:3px;top:6px"><path d="M0.1 1.2L4.1 5.6L8.1 1.2" fill="none" stroke="#000" stroke-width="1.25"/></svg></div>
<div class="lk" style="left:1375px;top:431.67px;transform:scaleX(0.95)">Tasks</div>
<div class="in" style="left:1416px;top:435px;width:35px;height:19px"><span style="width:29.13px"></span></div>
<div class="lb" style="left:309px;top:469.67px">Transition 7:</div>
<div class="in" style="left:391px;top:473px;width:154px;height:19px"><span style="width:144.66px">Tuotantoon (ei tarkastusta)</span></div>
<div class="in" style="left:565px;top:473px;width:155px;height:19px"><span style="width:145.63px">Approve (w/o verification)</span></div>
<div class="se" style="left:740px;top:473px;width:148px;height:19px"><span style="width:124.14px">Luonnos (Draft)</span><svg width="10" height="8" style="position:absolute;right:3px;top:6px"><path d="M0.1 1.2L4.1 5.6L8.1 1.2" fill="none" stroke="#000" stroke-width="1.25"/></svg></div>
<div class="se" style="left:909px;top:473px;width:148px;height:19px"><span style="width:124.14px">Hyväksytty (Approved)</span><svg width="10" height="8" style="position:absolute;right:3px;top:6px"><path d="M0.1 1.2L4.1 5.6L8.1 1.2" fill="none" stroke="#000" stroke-width="1.25"/></svg></div>
<div class="in" style="left:1063px;top:473px;width:35px;height:19px"><span style="width:29.13px">60</span></div>
<div class="lk" style="left:1104px;top:460.67px;transform:scaleX(1.075);transform-origin:0 0">Notifications</div>
<div class="lk" style="left:1104px;top:477.67px">(0)</div>
<div class="lk" style="left:1181px;top:469.67px">All</div>
<div class="lk" style="left:1231px;top:469.67px">All</div>
<div class="se" style="left:1281px;top:473px;width:34px;height:19px"><span style="width:11.82px"></span><svg width="10" height="8" style="position:absolute;right:3px;top:6px"><path d="M0.1 1.2L4.1 5.6L8.1 1.2" fill="none" stroke="#000" stroke-width="1.25"/></svg></div>
<div class="se" style="left:1321px;top:473px;width:34px;height:19px"><span style="width:11.82px"></span><svg width="10" height="8" style="position:absolute;right:3px;top:6px"><path d="M0.1 1.2L4.1 5.6L8.1 1.2" fill="none" stroke="#000" stroke-width="1.25"/></svg></div>
<div class="lk" style="left:1375px;top:469.67px;transform:scaleX(0.95)">Tasks</div>
<div class="in" style="left:1416px;top:473px;width:35px;height:19px"><span style="width:29.13px"></span></div>
<div class="lb" style="left:309px;top:507.67px">Transition 8:</div>
<div class="in" style="left:391px;top:511px;width:154px;height:19px"><span style="width:144.66px">Poista käytöstä</span></div>
<div class="in" style="left:565px;top:511px;width:155px;height:19px"><span style="width:145.63px">Obsolete</span></div>
<div class="se" style="left:740px;top:511px;width:148px;height:19px"><span style="width:124.14px">Hyväksytty (Approved)</span><svg width="10" height="8" style="position:absolute;right:3px;top:6px"><path d="M0.1 1.2L4.1 5.6L8.1 1.2" fill="none" stroke="#000" stroke-width="1.25"/></svg></div>
<div class="se" style="left:909px;top:511px;width:148px;height:19px"><span style="width:124.14px">Käytöstä poistettu (Obsolete)</span><svg width="10" height="8" style="position:absolute;right:3px;top:6px"><path d="M0.1 1.2L4.1 5.6L8.1 1.2" fill="none" stroke="#000" stroke-width="1.25"/></svg></div>
<div class="in" style="left:1063px;top:511px;width:35px;height:19px"><span style="width:29.13px">70</span></div>
<div class="lk" style="left:1104px;top:498.67px;transform:scaleX(1.075);transform-origin:0 0">Notifications</div>
<div class="lk" style="left:1104px;top:515.67px">(0)</div>
<div class="lk" style="left:1181px;top:507.67px">All</div>
<div class="lk" style="left:1231px;top:507.67px">All</div>
<div class="se" style="left:1281px;top:511px;width:34px;height:19px"><span style="width:11.82px"></span><svg width="10" height="8" style="position:absolute;right:3px;top:6px"><path d="M0.1 1.2L4.1 5.6L8.1 1.2" fill="none" stroke="#000" stroke-width="1.25"/></svg></div>
<div class="se" style="left:1321px;top:511px;width:34px;height:19px"><span style="width:11.82px"></span><svg width="10" height="8" style="position:absolute;right:3px;top:6px"><path d="M0.1 1.2L4.1 5.6L8.1 1.2" fill="none" stroke="#000" stroke-width="1.25"/></svg></div>
<div class="lk" style="left:1375px;top:507.67px;transform:scaleX(0.95)">Tasks</div>
<div class="in" style="left:1416px;top:511px;width:35px;height:19px"><span style="width:29.13px"></span></div>
<div class="lb" style="left:309px;top:545.67px">Transition 9:</div>
<div class="in" style="left:391px;top:549px;width:154px;height:19px"><span style="width:144.66px">Ota käyttöön</span></div>
<div class="in" style="left:565px;top:549px;width:155px;height:19px"><span style="width:145.63px">Enable use</span></div>
<div class="se" style="left:740px;top:549px;width:148px;height:19px"><span style="width:124.14px">Käytöstä poistettu (Obsolete)</span><svg width="10" height="8" style="position:absolute;right:3px;top:6px"><path d="M0.1 1.2L4.1 5.6L8.1 1.2" fill="none" stroke="#000" stroke-width="1.25"/></svg></div>
<div class="se" style="left:909px;top:549px;width:148px;height:19px"><span style="width:124.14px">Luonnos (Draft)</span><svg width="10" height="8" style="position:absolute;right:3px;top:6px"><path d="M0.1 1.2L4.1 5.6L8.1 1.2" fill="none" stroke="#000" stroke-width="1.25"/></svg></div>
<div class="in" style="left:1063px;top:549px;width:35px;height:19px"><span style="width:29.13px">80</span></div>
<div class="lk" style="left:1104px;top:536.67px;transform:scaleX(1.075);transform-origin:0 0">Notifications</div>
<div class="lk" style="left:1104px;top:553.67px">(0)</div>
<div class="lk" style="left:1181px;top:545.67px">All</div>
<div class="lk" style="left:1231px;top:545.67px">All</div>
<div class="se" style="left:1281px;top:549px;width:34px;height:19px"><span style="width:11.82px"></span><svg width="10" height="8" style="position:absolute;right:3px;top:6px"><path d="M0.1 1.2L4.1 5.6L8.1 1.2" fill="none" stroke="#000" stroke-width="1.25"/></svg></div>
<div class="se" style="left:1321px;top:549px;width:34px;height:19px"><span style="width:11.82px"></span><svg width="10" height="8" style="position:absolute;right:3px;top:6px"><path d="M0.1 1.2L4.1 5.6L8.1 1.2" fill="none" stroke="#000" stroke-width="1.25"/></svg></div>
<div class="lk" style="left:1375px;top:545.67px;transform:scaleX(0.95)">Tasks</div>
<div class="in" style="left:1416px;top:549px;width:35px;height:19px"><span style="width:29.13px"></span></div>
<div class="lb" style="left:309px;top:583.67px">Transition 10:</div>
<div class="in" style="left:391px;top:587px;width:154px;height:19px"><span style="width:144.66px">Päivityksestä työn alle</span></div>
<div class="in" style="left:565px;top:587px;width:155px;height:19px"><span style="width:145.63px">From update to start work</span></div>
<div class="se" style="left:740px;top:587px;width:148px;height:19px"><span style="width:124.14px">Päivitys kesken (Update)</span><svg width="10" height="8" style="position:absolute;right:3px;top:6px"><path d="M0.1 1.2L4.1 5.6L8.1 1.2" fill="none" stroke="#000" stroke-width="1.25"/></svg></div>
<div class="se" style="left:909px;top:587px;width:148px;height:19px"><span style="width:124.14px">Luonnos (Draft)</span><svg width="10" height="8" style="position:absolute;right:3px;top:6px"><path d="M0.1 1.2L4.1 5.6L8.1 1.2" fill="none" stroke="#000" stroke-width="1.25"/></svg></div>
<div class="in" style="left:1063px;top:587px;width:35px;height:19px"><span style="width:29.13px">1000</span></div>
<div class="lk" style="left:1104px;top:574.67px;transform:scaleX(1.075);transform-origin:0 0">Notifications</div>
<div class="lk" style="left:1104px;top:591.67px">(0)</div>
<div class="lk" style="left:1181px;top:583.67px">All</div>
<div class="lk" style="left:1231px;top:583.67px">All</div>
<div class="se" style="left:1281px;top:587px;width:34px;height:19px"><span style="width:11.82px"></span><svg width="10" height="8" style="position:absolute;right:3px;top:6px"><path d="M0.1 1.2L4.1 5.6L8.1 1.2" fill="none" stroke="#000" stroke-width="1.25"/></svg></div>
<div class="se" style="left:1321px;top:587px;width:34px;height:19px"><span style="width:11.82px"></span><svg width="10" height="8" style="position:absolute;right:3px;top:6px"><path d="M0.1 1.2L4.1 5.6L8.1 1.2" fill="none" stroke="#000" stroke-width="1.25"/></svg></div>
<div class="lk" style="left:1375px;top:583.67px;transform:scaleX(0.95)">Tasks</div>
<div class="in" style="left:1416px;top:587px;width:35px;height:19px"><span style="width:29.13px"></span></div>
<div class="lb" style="left:309px;top:614.67px">Transition 11:</div>
<div class="in" style="left:391px;top:618px;width:154px;height:19px"><span style="width:144.66px"></span></div>
<div class="in" style="left:565px;top:618px;width:155px;height:19px"><span style="width:145.63px"></span></div>
<div class="se" style="left:740px;top:618px;width:148px;height:19px"><span style="width:124.14px"></span><svg width="10" height="8" style="position:absolute;right:3px;top:6px"><path d="M0.1 1.2L4.1 5.6L8.1 1.2" fill="none" stroke="#000" stroke-width="1.25"/></svg></div>
<div class="se" style="left:909px;top:618px;width:148px;height:19px"><span style="width:124.14px"></span><svg width="10" height="8" style="position:absolute;right:3px;top:6px"><path d="M0.1 1.2L4.1 5.6L8.1 1.2" fill="none" stroke="#000" stroke-width="1.25"/></svg></div>
<div class="in" style="left:1063px;top:618px;width:35px;height:19px"><span style="width:29.13px"></span></div>
<div class="se" style="left:1231px;top:618px;width:34px;height:19px"><span style="width:11.82px"></span><svg width="10" height="8" style="position:absolute;right:3px;top:6px"><path d="M0.1 1.2L4.1 5.6L8.1 1.2" fill="none" stroke="#000" stroke-width="1.25"/></svg></div>
<div class="se" style="left:1281px;top:618px;width:34px;height:19px"><span style="width:11.82px"></span><svg width="10" height="8" style="position:absolute;right:3px;top:6px"><path d="M0.1 1.2L4.1 5.6L8.1 1.2" fill="none" stroke="#000" stroke-width="1.25"/></svg></div>
<div class="in" style="left:1375px;top:618px;width:35px;height:19px"><span style="width:29.13px"></span></div>
<svg width="1487" height="695" style="position:absolute;left:0;top:0;mix-blend-mode:multiply" fill="#ffe600"><path d="M1228 139.5H1280V157.5H1277V178.7H1276V212.7H1228V178.7H1225V157.5H1228Z"/><path d="M1225 277H1269V296H1225Z"/><path d="M1227 297H1269V315H1227Z"/><rect x="1227" y="296" width="42" height="1" fill="#fff2a0"/></svg>
<div class="bt" style="left:311px;top:645px;width:43px;height:22px">Add</div>
<div class="bt" style="left:361px;top:645px;width:46px;height:22px">Save</div>
<div class="bt" style="left:415px;top:645px;width:56px;height:22px">Cancel</div>
<div style="position:absolute;left:1485px;top:0;width:1px;height:695px;background:#f2f2f2"></div>
<div style="position:absolute;left:1486px;top:0;width:1px;height:695px;background:#a0a0a0"></div></body></html>
